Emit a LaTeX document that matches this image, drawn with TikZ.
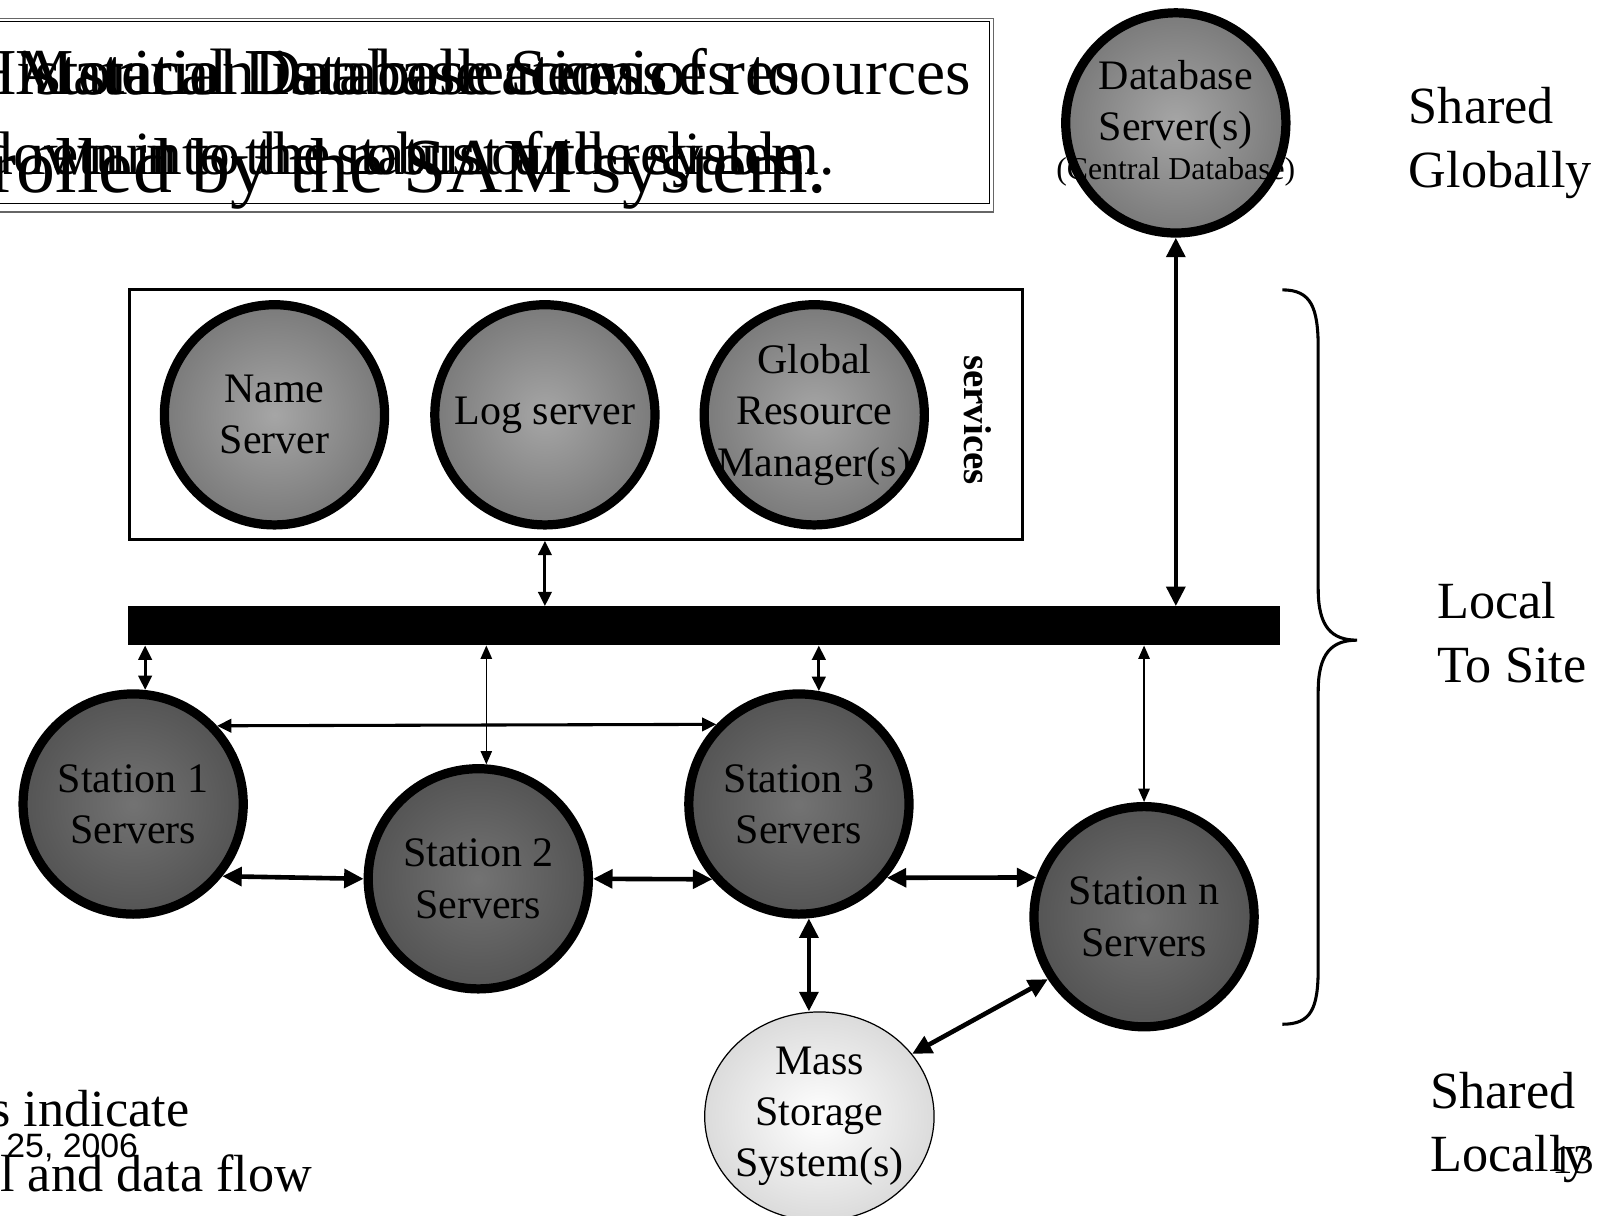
\documentclass[tikz,border=0pt]{standalone}
\usepackage{fontspec}
\setmainfont{Liberation Serif}
\newfontfamily\sansf{Liberation Sans}
\usetikzlibrary{arrows.meta,shapes.geometric}
\begin{document}
\begin{tikzpicture}[x=1pt,y=-1pt,
  upper/.style={circle, draw=black, line width=9pt, minimum size=215pt, inner sep=-60pt, align=center,
    inner color=black!35, outer color=black!52, font=\fontsize{41}{50}\selectfont},
  station/.style={circle, draw=black, line width=9pt, minimum size=215pt, inner sep=-60pt, align=center,
    inner color=black!55, outer color=black!67, font=\fontsize{41}{50}\selectfont},
  storage/.style={ellipse, draw=black, line width=1.2pt, minimum width=224pt, minimum height=204pt, inner sep=-60pt, align=center,
    inner color=white, outer color=black!14, font=\fontsize{41}{50}\selectfont},
  side/.style={align=left, anchor=north west, font=\fontsize{51}{62}\selectfont},
  thickarr/.style={line width=4.5pt, {Triangle[length=19pt,width=18pt]}-{Triangle[length=19pt,width=18pt]}},
  medarr/.style={line width=3pt, {Triangle[length=14pt,width=13pt]}-{Triangle[length=14pt,width=13pt]}},
  thinarr/.style={line width=1.6pt, {Triangle[length=13pt,width=11pt]}-{Triangle[length=13pt,width=11pt]}},
  bigtxt/.style={anchor=base east, inner sep=0pt},
  bigtxtw/.style={anchor=base west, inner sep=0pt}
]
\useasboundingbox (0,0) rectangle (1568,1187);

% top text box
\draw[black!60, line width=1.5pt] (-5,18) rectangle (970,207);
\draw[black, line width=0.8pt] (-5,21) rectangle (966,199);
\begin{scope}
\clip (-5,21) rectangle (966,240);
\node[bigtxt, font=\fontsize{64}{70}\selectfont] (t1) at (948,92) {A station is a collection of resources};
\node[bigtxtw, font=\fontsize{64}{70}\selectfont] (t2) at (15,92) {Material Database Services to};
\node[bigtxtw, font=\fontsize{64}{70}\selectfont] (t2b) at (-30,92) {Historical Database access};
\node[bigtxt, font=\fontsize{60}{70}\selectfont] (t3) at (815,170) {down into the status of the system.};
\node[bigtxt, font=\fontsize{60}{70}\selectfont] (t3b) at (800,170) {return to the robust and reliable.};
\node[bigtxt, font=\fontsize{76}{80}\selectfont] (t4) at (808,188) {controlled by the SAM system.};
\end{scope}

% database server
\node[upper] (db) at (1148,120) {Database\\Server(s)\\[-12pt]{\fontsize{31}{34}\selectfont (Central Database)}};
\node[side] (sg) at (1372,82) {Shared\\Globally};

% services box
\node[draw=black, line width=3pt, minimum width=872pt, minimum height=244pt, inner sep=0pt] (svc) at (562.5,404.5) {};
\node[upper] (name) at (268,405) {Name\\Server};
\node[upper] (log) at (532,405) {Log server};
\node[upper] (grm) at (795,405) {Global\\Resource\\Manager(s)};
\node[rotate=-90, font=\bfseries\fontsize{38}{40}\selectfont] (svclab) at (955,410) {services};

% bus
\node[fill=black, minimum width=1125pt, minimum height=38pt, inner sep=0pt] (bus) at (687.5,611) {};

% stations
\node[station] (st1) at (130,785) {Station 1\\Servers};
\node[station] (st2) at (467,858) {Station 2\\Servers};
\node[station] (st3) at (780,785) {Station 3\\Servers};
\node[station] (stn) at (1117,895) {Station n\\Servers};
\node[storage] (mss) at (800,1090) {Mass\\Storage\\System(s)};

% connectors
\draw[thickarr] (db.south) -- (db.south |- bus.north);
\draw[medarr] (svc.south -| log) -- (bus.north -| log);
\draw[medarr] (st1.84) -- (st1.84 |- bus.south);
\draw[thinarr] (st2.86) -- (st2.86 |- bus.south);
\draw[medarr] (st3.80) -- (st3.80 |- bus.south);
\draw[thinarr] (stn.north) -- (stn.north |- bus.south);
\draw[medarr] (st1.43.6) -- (st3.136.4);
\draw[thickarr] (st1.-39) -- (st2.180);
\draw[thickarr] (st2.0) -- (st3.-139.3);
\draw[thickarr] (st3.-40.7) -- (stn.160.7);
\draw[thickarr] (st3.-85) -- (st3.-85 |- mss.north);
\draw[thickarr] (stn.-147.7) -- (mss.34.4);

% brace
\draw[line width=3pt] (1252,283) .. controls (1280,283) and (1287,300) .. (1287,340)
  -- (1287,575) .. controls (1287,612) and (1300,625) .. (1325,625)
  .. controls (1300,625) and (1287,638) .. (1287,675)
  -- (1287,945) .. controls (1287,985) and (1280,1000) .. (1252,1000);
\node[side] (lts) at (1400,565) {Local\\To Site};
\node[side] (sl) at (1393,1043) {Shared\\Locally};
\node[anchor=base west, inner sep=0pt, font=\fontsize{40}{40}\selectfont] (pg) at (1516,1146) {13};

% bottom left
\node[bigtxt, font=\fontsize{51}{50}\selectfont] (b1) at (185,1100) {Arrows indicate};
\node[bigtxt, font=\sansf\fontsize{33}{36}\selectfont] (dt) at (135,1130) {January 25, 2006};
\node[bigtxt, font=\fontsize{51}{50}\selectfont] (b2) at (305,1163) {control and data flow};
\end{tikzpicture}
\end{document}
